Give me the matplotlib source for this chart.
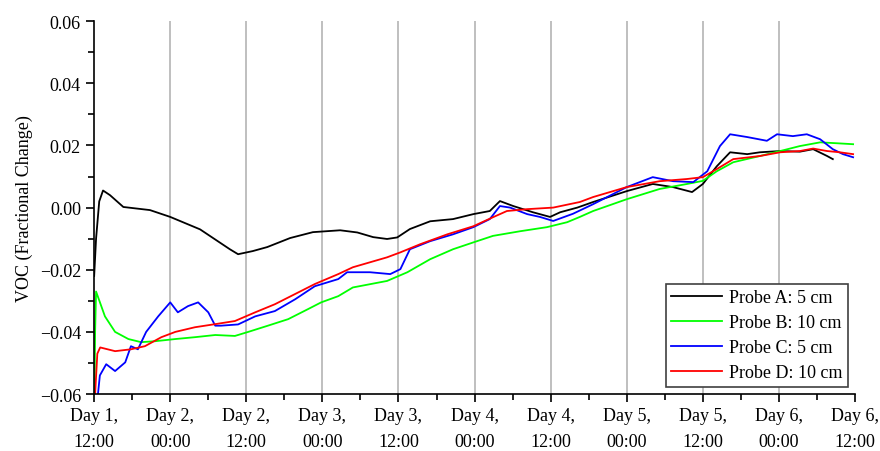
"""
VOC (fractional change) of four probes over five days.
"""
import matplotlib
matplotlib.use("Agg")
import matplotlib.pyplot as plt
from matplotlib.ticker import MultipleLocator, FuncFormatter

plt.rcParams["font.family"] = ["Liberation Serif", "DejaVu Serif"]

# Time axis: hours since Day 1, 12:00
tick_hours = [0, 12, 24, 36, 48, 60, 72, 84, 96, 108, 120]
tick_labels = ["Day 1,\n12:00", "Day 2,\n00:00", "Day 2,\n12:00",
               "Day 3,\n00:00", "Day 3,\n12:00", "Day 4,\n00:00",
               "Day 4,\n12:00", "Day 5,\n00:00", "Day 5,\n12:00",
               "Day 6,\n00:00", "Day 6,\n12:00"]

# Probe A: 5 cm
hours_a = [0, 0.3, 0.8, 1.4, 2.5, 4.6, 8.8, 12.0, 16.7, 21.4, 22.7, 25.0,
           27.3, 30.9, 34.5, 38.8, 41.5, 44.0, 46.2, 47.8, 49.8, 53.0,
           56.6, 59.8, 62.4, 64.0, 66.1, 69.2, 71.9, 73.5, 76.2, 78.7,
           84.0, 88.1, 91.3, 94.3, 96.0, 98.2, 100.3, 103.0, 105.0, 108.2,
           111.3, 113.4, 115.6, 116.5]
voc_a = [-0.022, -0.010, 0.002, 0.0055, 0.004, 0.0002, -0.0008, -0.003,
         -0.007, -0.0134, -0.015, -0.014, -0.0127, -0.0098, -0.0079,
         -0.0073, -0.008, -0.0095, -0.0101, -0.0096, -0.0069, -0.0044,
         -0.0037, -0.0021, -0.0011, 0.0021, 0.0005, -0.0015, -0.003,
         -0.0015, 0.0, 0.0018, 0.0053, 0.0076, 0.0066, 0.005, 0.0076,
         0.0133, 0.0178, 0.0172, 0.0178, 0.0182, 0.018, 0.0188, 0.0166,
         0.0156]

# Probe B: 10 cm
hours_b = [0.05, 0.15, 0.3, 1.7, 3.3, 5.4, 7.4, 9.6, 12.8, 15.9, 19.1,
           22.2, 24.3, 27.4, 30.6, 33.7, 35.8, 38.5, 40.8, 46.2, 49.4,
           53.0, 56.6, 59.8, 62.9, 67.2, 71.4, 74.6, 76.6, 78.7, 84.0,
           89.2, 93.5, 96.0, 98.2, 100.8, 105.0, 108.2, 111.3, 114.5,
           117.2, 119.7]
voc_b = [-0.06, -0.04, -0.027, -0.035, -0.040, -0.0423, -0.0433, -0.043,
         -0.0423, -0.0417, -0.041, -0.0413, -0.040, -0.038, -0.0359,
         -0.0327, -0.0305, -0.0285, -0.0257, -0.0236, -0.0208, -0.0166,
         -0.0134, -0.0112, -0.0091, -0.0076, -0.0063, -0.0047, -0.003,
         -0.0011, 0.0027, 0.006, 0.0076, 0.0086, 0.0117, 0.0146, 0.0166,
         0.0182, 0.0198, 0.021, 0.0207, 0.0204]

# Probe C: 5 cm
hours_c = [0.6, 0.9, 1.9, 3.3, 4.9, 5.8, 6.9, 8.2, 10.1, 12.0, 13.2, 14.8,
           16.4, 18.0, 19.1, 20.0, 22.7, 25.4, 28.5, 31.7, 34.8, 38.5,
           39.9, 43.5, 46.7, 48.3, 49.8, 53.0, 56.6, 59.8, 62.4, 64.0,
           65.6, 68.3, 70.3, 72.4, 75.5, 78.7, 84.0, 88.1, 91.3, 94.5,
           96.7, 98.7, 100.3, 103.0, 106.1, 107.7, 110.2, 112.4, 114.5,
           116.5, 118.1, 119.7]
voc_c = [-0.06, -0.054, -0.0504, -0.0526, -0.0498, -0.0446, -0.0456,
         -0.040, -0.035, -0.0305, -0.0337, -0.0317, -0.0305, -0.0337,
         -0.038, -0.038, -0.0376, -0.035, -0.0333, -0.0295, -0.0253,
         -0.023, -0.0208, -0.0208, -0.0214, -0.0198, -0.0134, -0.0108,
         -0.0086, -0.0063, -0.0037, 0.0005, 0.0, -0.0021, -0.003, -0.0043,
         -0.002, 0.0011, 0.0066, 0.0098, 0.0085, 0.0082, 0.0117, 0.0198,
         0.0236, 0.0227, 0.0215, 0.0236, 0.023, 0.0236, 0.022, 0.0188,
         0.0172, 0.0162]

# Probe D: 10 cm
hours_d = [0.15, 0.5, 0.95, 3.3, 5.8, 8.0, 10.6, 12.8, 15.9, 19.1, 22.2,
           25.4, 28.5, 31.7, 34.8, 38.5, 40.8, 46.2, 48.3, 51.4, 55.7,
           59.8, 62.9, 65.1, 68.3, 72.4, 76.6, 78.7, 84.0, 89.2, 93.5,
           96.0, 98.2, 100.8, 105.0, 108.2, 111.3, 113.4, 115.6, 117.6,
           119.7]
voc_d = [-0.06, -0.047, -0.045, -0.0462, -0.0456, -0.0446, -0.0417,
         -0.040, -0.0385, -0.0375, -0.0365, -0.0337, -0.0311, -0.0278,
         -0.0246, -0.0214, -0.0192, -0.016, -0.0144, -0.0118, -0.0086,
         -0.006, -0.0031, -0.0011, -0.0005, 0.0, 0.0018, 0.0034, 0.0066,
         0.0085, 0.0092, 0.0098, 0.0124, 0.0156, 0.0166, 0.0178, 0.0182,
         0.019, 0.0182, 0.0178, 0.0172]

series = [(hours_a, voc_a, "#000000", "Probe A: 5 cm"),
          (hours_b, voc_b, "#00ff00", "Probe B: 10 cm"),
          (hours_c, voc_c, "#0000ff", "Probe C: 5 cm"),
          (hours_d, voc_d, "#ff0000", "Probe D: 10 cm")]

fig = plt.figure(figsize=(8.8, 4.52), dpi=100)
ax = fig.add_axes([0.107, 0.126, 0.8646, 0.825])

for hours, voc, color, label in series:
    ax.plot(hours, voc, color=color, lw=1.3, label=label)

ax.set_xlim(0, 120)
ax.set_ylim(-0.06, 0.06)
ax.set_xticks(tick_hours)
ax.set_xticklabels(tick_labels, linespacing=1.75)
ax.xaxis.set_minor_locator(MultipleLocator(6))
ax.set_yticks([-0.06, -0.04, -0.02, 0.0, 0.02, 0.04, 0.06])
ax.yaxis.set_minor_locator(MultipleLocator(0.01))
ax.yaxis.set_major_formatter(
    FuncFormatter(lambda v, pos: "{:.2f}".format(v).replace("-", "\u2212")))
ax.tick_params(which="major", length=6, width=1.2, labelsize=13)
ax.tick_params(which="minor", length=4, width=1.2)
ax.tick_params(axis="x", pad=3)

for h in tick_hours[1:-1]:
    ax.axvline(h, color="#b4b4b4", lw=1.2, zorder=0)

ax.spines["top"].set_visible(False)
ax.spines["right"].set_visible(False)
ax.spines["left"].set_linewidth(1.2)
ax.spines["bottom"].set_linewidth(1.2)

ax.set_ylabel("VOC (Fractional Change)", fontsize=13, labelpad=5)

leg = ax.legend(loc="lower right", fontsize=13, handlelength=2.8,
                fancybox=False, framealpha=1, edgecolor="#404040",
                borderaxespad=0.4, labelspacing=0.45, handletextpad=0.4,
                borderpad=0.3)
leg.get_frame().set_linewidth(1.2)

plt.savefig("out.png", dpi=100)
